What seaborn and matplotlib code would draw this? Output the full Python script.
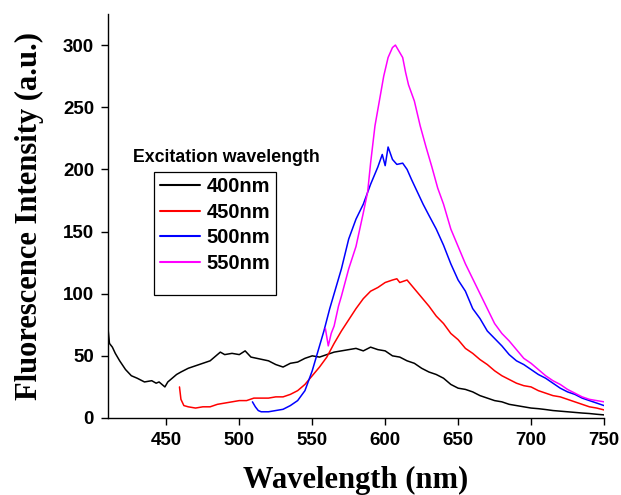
import pandas as pd
import matplotlib
matplotlib.use("Agg")
import matplotlib.pyplot as plt
import seaborn as sns
from matplotlib.patches import Rectangle

sns.set_style("ticks")
plt.rcParams['font.family'] = ['Liberation Sans', 'DejaVu Sans']
plt.rcParams['text.color'] = 'black'
plt.rcParams['axes.labelcolor'] = 'black'
plt.rcParams['xtick.color'] = 'black'
plt.rcParams['ytick.color'] = 'black'

# spectra (wavelength nm, intensity a.u.)
wl_400 = [410, 411, 413, 415, 418, 422, 426, 430, 435, 440, 443, 445, 447, 449, 451, 453, 457,
          460, 465, 470, 475, 480, 484, 487, 490, 495, 500, 504, 508, 512, 516, 520, 525,
          530, 535, 540, 545, 550, 555, 560, 565, 570, 575, 580, 585, 590, 595, 600, 605,
          610, 615, 620, 625, 630, 635, 640, 645, 650, 655, 660, 665, 670, 675, 680, 685,
          690, 695, 700, 705, 710, 715, 720, 725, 730, 735, 740, 745, 750]
int_400 = [72, 60, 57, 52, 46, 39, 34, 32, 29, 30, 28, 29, 27, 25, 29, 31, 35,
           37, 40, 42, 44, 46, 50, 53, 51, 52, 51, 54, 49, 48, 47, 46, 43,
           41, 44, 45, 48, 50, 49, 51, 53, 54, 55, 56, 54, 57, 55, 54, 50,
           49, 46, 44, 40, 37, 35, 32, 27, 24, 23, 21, 18, 16, 14, 13, 11,
           10, 9, 8, 7.5, 6.8, 6, 5.5, 5, 4.5, 4, 3.6, 3, 2.5]

wl_450 = [459, 460, 462, 465, 470, 475, 480, 485, 490, 495, 500, 505, 510, 515, 520, 525,
          530, 535, 540, 545, 550, 555, 560, 565, 570, 575, 580, 585, 590, 595, 600, 605,
          608, 610, 615, 620, 625, 630, 635, 640, 645, 650, 655, 660, 665, 670, 675, 680,
          685, 690, 695, 700, 705, 710, 715, 720, 725, 730, 735, 740, 745, 750]
int_450 = [25, 15, 10, 9, 8, 9, 9, 11, 12, 13, 14, 14, 16, 16, 16, 17,
           17, 19, 22, 27, 34, 41, 49, 60, 70, 79, 88, 96, 102, 105, 109, 111,
           112, 109, 111, 104, 97, 90, 82, 76, 68, 63, 56, 52, 47, 43, 38, 34,
           31, 28, 26, 25, 22, 20, 18, 17, 15, 13, 11, 9, 8, 6.5]

wl_500 = [509, 511, 513, 515, 520, 525, 530, 535, 540, 545, 550, 555, 558, 562, 565, 570,
          575, 580, 585, 590, 595, 598, 600, 602, 605, 608, 612, 615, 618, 622, 626, 630,
          635, 640, 645, 650, 655, 660, 665, 670, 675, 680, 685, 690, 695, 700, 705, 710,
          715, 720, 725, 730, 735, 740, 745, 750]
int_500 = [13, 9, 6, 5, 5, 6, 7, 10, 14, 22, 38, 58, 70, 88, 100, 120,
           144, 160, 172, 188, 202, 212, 203, 218, 208, 204, 205, 200, 192, 182, 172, 163,
           152, 139, 124, 111, 102, 88, 80, 70, 64, 58, 51, 46, 43, 39, 35, 32,
           28, 24, 21, 19, 16, 14, 12, 10]

wl_550 = [559, 561, 563, 565, 568, 570, 575, 580, 585, 588, 590, 593, 596, 599, 602, 605,
          607, 609, 612, 614, 616, 620, 624, 628, 632, 636, 640, 645, 650, 655, 660, 665,
          670, 675, 680, 685, 690, 695, 700, 705, 710, 715, 720, 725, 730, 735, 740, 745, 750]
int_550 = [72, 58, 68, 74, 90, 98, 120, 138, 165, 182, 205, 235, 255, 275, 290, 298,
           300, 296, 290, 278, 268, 255, 235, 218, 202, 185, 172, 152, 138, 124, 112, 100,
           88, 76, 68, 62, 55, 48, 44, 39, 34, 30, 27, 23, 20, 17, 15, 14, 13]

labels = ["400nm", "450nm", "500nm", "550nm"]
colors = ["black", "#ff0000", "#0000ff", "#ff00ff"]

frames = []
for lab, w, v in zip(labels, [wl_400, wl_450, wl_500, wl_550],
                     [int_400, int_450, int_500, int_550]):
    frames.append(pd.DataFrame({"wl": w, "intensity": v, "exc": lab}))
df = pd.concat(frames, ignore_index=True)

fig = plt.figure(figsize=(6.21, 4.95), dpi=100)
ax = fig.add_axes([108 / 621, 1 - 418 / 495, (604 - 108) / 621, (418 - 14) / 495])

sns.lineplot(data=df, x="wl", y="intensity", hue="exc", palette=colors,
             estimator=None, sort=False, linewidth=1.1, ax=ax, legend=False)

ax.set_xlim(410, 750)
ax.set_ylim(0, 325)
ax.set_xticks(range(450, 751, 50))
ax.set_yticks(range(0, 301, 50))
for s in ["top", "right"]:
    ax.spines[s].set_visible(False)
for s in ["left", "bottom"]:
    ax.spines[s].set_color("black")
    ax.spines[s].set_linewidth(1.0)
ax.tick_params(direction="out", length=5, width=1, colors="black", pad=5, labelsize=13.5)
for t in ax.get_xticklabels() + ax.get_yticklabels():
    t.set_fontweight("bold")

ax.set_xlabel("Wavelength (nm)", fontsize=22, fontweight="bold",
              family=["Liberation Serif", "DejaVu Serif"], labelpad=12)
ax.set_ylabel("Fluorescence Intensity (a.u.)", fontsize=22, fontweight="bold",
              family=["Liberation Serif", "DejaVu Serif"], labelpad=14)

# legend: title outside the box, box with empty space at bottom
handles = [plt.Line2D([], [], color=c, lw=1.5) for c in colors]
leg = ax.legend(handles, labels, loc="upper left", frameon=False,
                bbox_to_anchor=(160 / 621, 1 - 177 / 495), bbox_transform=fig.transFigure,
                prop={"weight": "bold", "size": 14.5}, handlelength=2.0,
                handletextpad=0.3, labelspacing=0.33, borderpad=0, borderaxespad=0)
fig.patches.append(Rectangle((154 / 621, 1 - 295 / 495), (276 - 154) / 621, (295 - 172) / 495,
                             transform=fig.transFigure, fill=False, edgecolor="black",
                             linewidth=0.9))
fig.text(133 / 621, 1 - 158 / 495, "Excitation wavelength", fontsize=12.8,
         fontweight="bold", va="center", ha="left")

fig.savefig("out.png", dpi=100)
